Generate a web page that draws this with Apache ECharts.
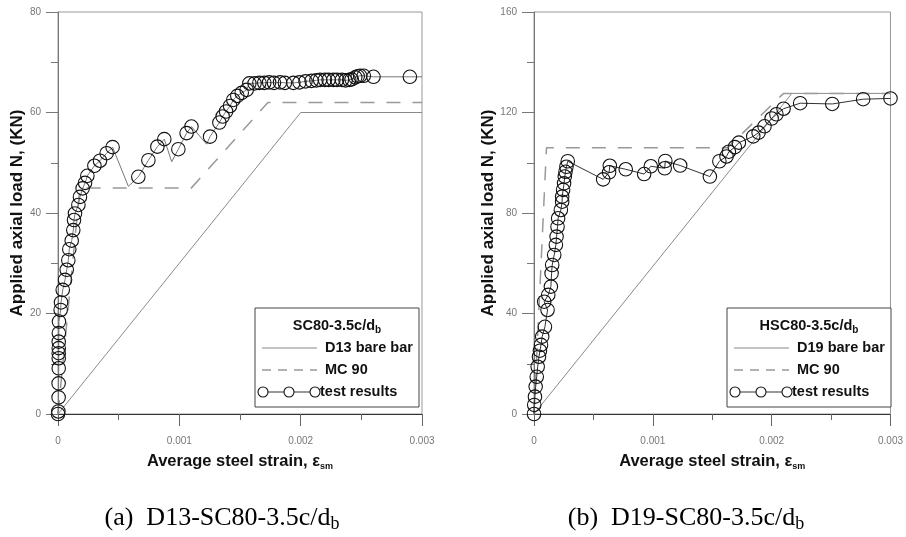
<!DOCTYPE html>
<html>
<head>
<meta charset="utf-8">
<script src="https://cdn.jsdelivr.net/npm/echarts@6/dist/echarts.min.js"></script>
<style>
  html, body { margin: 0; background: #fff; }
  #chart { width: 906px; height: 537px; }
</style>
</head>
<body>
<div id="chart"></div>
<script>
// ---- panel (a) D13-SC80 ----
var barA_strain = [0, 0.002, 0.003];
var barA_load = [0, 60, 60];
var mcA_strain = [0, 0.00018, 0.0011, 0.00173, 0.003];
var mcA_load = [0, 45, 45, 62, 62];
var testA_strain = [0, 0.000003, 0.000005, 0.000005, 0.000006, 0.000006, 0.000006, 0.000006, 0.000006, 0.000007,
  0.000008, 0.000022, 0.000025, 0.000039, 0.000058, 0.000072, 0.000085, 0.000093, 0.000113, 0.000126,
  0.000132, 0.00014, 0.000168, 0.000181, 0.000203, 0.000223, 0.000242, 0.0003, 0.000346, 0.000401,
  0.00045, 0.00058, 0.000662, 0.000745, 0.000819, 0.000876, 0.000937, 0.000992, 0.00106, 0.0011,
  0.001225, 0.001253, 0.00133, 0.001357, 0.001385, 0.001418, 0.001445, 0.001478, 0.001514, 0.001555,
  0.001577, 0.00162, 0.00166, 0.0017, 0.00174, 0.00178, 0.00183, 0.00187, 0.00194, 0.00199,
  0.00204, 0.00209, 0.00213, 0.00216, 0.0022, 0.00223, 0.00227, 0.0023, 0.00234, 0.00237,
  0.0024, 0.00242, 0.00245, 0.00247, 0.00249, 0.00252, 0.0026, 0.0029, 0.003];
var testA_load = [0, 0.5, 3.3, 6.1, 9.1, 11.1, 12.1, 13.1, 14.4, 16.1,
  18.4, 20.7, 22.2, 24.7, 26.7, 28.7, 30.6, 32.8, 34.5, 36.6,
  38.6, 39.9, 41.6, 43.2, 44.9, 46.0, 47.4, 49.4, 50.4, 51.9,
  53.1, 45.3, 47.2, 50.5, 53.2, 54.7, 50.2, 52.7, 55.9, 57.2,
  53.7, 55.2, 58.0, 59.2, 60.2, 61.3, 62.5, 63.3, 63.9, 64.5,
  65.8, 65.8, 65.9, 65.9, 66.0, 65.9, 66.0, 65.9, 65.9, 66.0,
  66.2, 66.3, 66.4, 66.5, 66.5, 66.5, 66.5, 66.5, 66.5, 66.4,
  66.5, 66.6, 67.0, 67.2, 67.3, 67.3, 67.1, 67.1, 67.1];
// vertices of the test curve drawn without a marker
var testA_lineOnly = [31, 36, 40, 78];

// ---- panel (b) D19-SC80 ----
var barB_strain = [0, 0.00217, 0.003];
var barB_load = [0, 127.6, 127.6];
var mcB_strain = [0, 0.000105, 0.00163, 0.0021, 0.003];
var mcB_load = [0, 106, 106, 127.6, 127.6];
var testB_strain = [0, 0.000002, 0.000008, 0.000014, 0.000023, 0.000031, 0.000042, 0.00005, 0.000059, 0.000069,
  0.000092, 0.000114, 0.000086, 0.00012, 0.000142, 0.000148, 0.000153, 0.00017, 0.000184, 0.00019,
  0.000198, 0.000203, 0.000226, 0.000237, 0.000237, 0.000245, 0.000253, 0.000259, 0.000265, 0.000273,
  0.000284, 0.000582, 0.000632, 0.000638, 0.000772, 0.000927, 0.000983, 0.0011, 0.001105, 0.00123,
  0.00148, 0.00156, 0.00162, 0.00164, 0.00169, 0.001724, 0.001845, 0.00189, 0.00194, 0.002,
  0.00204, 0.0021, 0.00224, 0.00251, 0.00277, 0.003];
var testB_load = [0, 3.6, 6.9, 10.9, 14.8, 18.8, 22.8, 25.2, 27.5, 30.8,
  34.7, 41.4, 44.7, 47.4, 50.7, 56.0, 59.3, 63.3, 67.3, 70.6,
  74.5, 77.9, 81.2, 84.5, 86.5, 89.2, 91.8, 94.5, 96.4, 98.4,
  100.6, 93.4, 96.2, 98.8, 97.4, 95.5, 98.6, 97.8, 100.7, 98.9,
  94.5, 100.6, 102.5, 104.4, 106.2, 108.0, 110.5, 112.0, 114.5, 117.6,
  119.3, 121.5, 123.7, 123.4, 125.3, 125.6];
var testB_lineOnly = [];

var xTicks = [0, 0.001, 0.002, 0.003];
var yMaxA = 80, yStepA = 20;
var yMaxB = 160, yStepB = 40;

var chart = echarts.init(document.getElementById('chart'));

function pairs(xs, ys) {
  return xs.map(function (x, i) { return [x, ys[i]]; });
}
function testData(xs, ys, lineOnly) {
  return xs.map(function (x, i) {
    if (lineOnly.indexOf(i) >= 0) return { value: [x, ys[i]], symbol: 'none' };
    return [x, ys[i]];
  });
}

var font = 'Liberation Sans, Arial, sans-serif';
var serif = 'Liberation Serif, Times New Roman, serif';

function xAxis(idx) {
  return {
    gridIndex: idx, type: 'value', min: 0, max: 0.003, interval: 0.001,
    name: '{a|Average steel strain, ε}{s|sm}',
    nameLocation: 'middle', nameGap: 38,
    nameTextStyle: {
      rich: {
        a: { fontFamily: font, fontSize: 16.5, fontWeight: 'bold', color: '#111', lineHeight: 19 },
        s: { fontFamily: font, fontSize: 9, fontWeight: 'bold', color: '#111', lineHeight: 9, verticalAlign: 'bottom' }
      }
    },
    axisLine: { onZero: false, lineStyle: { color: '#333', width: 1 } },
    axisTick: { inside: false, length: 12, lineStyle: { color: '#666' } },
    minorTick: { show: true, splitNumber: 2, length: 6, lineStyle: { color: '#666' } },
    axisLabel: {
      margin: 22, color: '#777', fontFamily: font, fontSize: 10,
      formatter: function (v) {
        var k = xTicks.indexOf(Math.round(v * 10000) / 10000);
        return k >= 0 ? String(xTicks[k]) : '';
      }
    },
    splitLine: { show: false }
  };
}
function yAxis(idx, max, step) {
  return {
    gridIndex: idx, type: 'value', min: 0, max: max, interval: step,
    name: 'Applied axial load N, (KN)',
    nameLocation: 'middle', nameGap: 30, nameRotate: 90,
    nameTextStyle: { fontFamily: font, fontSize: 17, fontWeight: 'bold', color: '#111' },
    axisLine: { onZero: false, lineStyle: { color: '#777', width: 1 } },
    axisTick: { inside: false, length: 12, lineStyle: { color: '#777' } },
    minorTick: { show: true, splitNumber: 2, length: 7, lineStyle: { color: '#777' } },
    axisLabel: { margin: 17, color: '#777', fontFamily: font, fontSize: 10 },
    splitLine: { show: false }
  };
}
function barSeries(idx, data) {
  return {
    type: 'line', xAxisIndex: idx, yAxisIndex: idx, data: data, symbol: 'none',
    lineStyle: { color: '#8a8a8a', width: 1 }, z: 2, animation: false
  };
}
function mcSeries(idx, data) {
  return {
    type: 'line', xAxisIndex: idx, yAxisIndex: idx, data: data, symbol: 'none',
    lineStyle: { color: '#999', width: 1.5, type: [14, 12] }, z: 2, animation: false
  };
}
function testSeries(idx, data, lineColor) {
  return {
    type: 'line', xAxisIndex: idx, yAxisIndex: idx, data: data,
    symbol: 'circle', symbolSize: 13.5, showAllSymbol: true, clip: false,
    itemStyle: { color: 'rgba(0,0,0,0)', borderColor: '#111', borderWidth: 1.1 },
    lineStyle: { color: lineColor, width: 1 }, z: 3, animation: false
  };
}

function legendGraphics(x0, title) {
  var y0 = 308, g = [];
  g.push({ type: 'rect', z: 100, shape: { x: x0, y: y0, width: 164, height: 99 },
    style: { fill: '#fff', stroke: '#444', lineWidth: 1 } });
  g.push({ type: 'text', z: 101, x: x0 + 82, y: y0 + 18,
    style: { text: '{t|' + title + '}{s|b}', align: 'center', verticalAlign: 'middle',
      rich: {
        t: { fontFamily: font, fontSize: 14.5, fontWeight: 'bold', fill: '#111', lineHeight: 18 },
        s: { fontFamily: font, fontSize: 10, fontWeight: 'bold', fill: '#111', lineHeight: 10, verticalAlign: 'bottom' }
      } } });
  var rows = [
    { y: y0 + 40, label: title.indexOf('H') === 0 ? 'D19 bare bar' : 'D13 bare bar' },
    { y: y0 + 62, label: 'MC 90' },
    { y: y0 + 84, label: 'test results' }
  ];
  g.push({ type: 'line', z: 101, shape: { x1: x0 + 7, y1: rows[0].y, x2: x0 + 62, y2: rows[0].y },
    style: { stroke: '#888', lineWidth: 1 } });
  g.push({ type: 'line', z: 101, shape: { x1: x0 + 7, y1: rows[1].y, x2: x0 + 62, y2: rows[1].y },
    style: { stroke: '#999', lineWidth: 1.5, lineDash: [9, 7] } });
  g.push({ type: 'line', z: 101, shape: { x1: x0 + 8, y1: rows[2].y, x2: x0 + 60, y2: rows[2].y },
    style: { stroke: '#333', lineWidth: 1 } });
  [x0 + 8, x0 + 34, x0 + 60].forEach(function (cx) {
    g.push({ type: 'circle', z: 102, shape: { cx: cx, cy: rows[2].y, r: 5 },
      style: { fill: '#fff', stroke: '#111', lineWidth: 1.1 } });
  });
  rows.forEach(function (r, i) {
    g.push({ type: 'text', z: 101, x: i === 2 ? x0 + 65 : x0 + 70, y: r.y,
      style: { text: r.label, fontFamily: font, fontSize: 14.5, fontWeight: 'bold', fill: '#111',
        align: 'left', verticalAlign: 'middle' } });
  });
  return g;
}
function caption(cx, text) {
  return { type: 'text', z: 100, x: cx, y: 518,
    style: { text: '{t|' + text + '}{s|b}', align: 'center', verticalAlign: 'middle',
      rich: {
        t: { fontFamily: serif, fontSize: 26, fill: '#000', lineHeight: 30 },
        s: { fontFamily: serif, fontSize: 18, fill: '#000', lineHeight: 18, verticalAlign: 'bottom' }
      } } };
}

chart.setOption({
  backgroundColor: '#fff',
  animation: false,
  grid: [
    { left: 58, top: 12, width: 364, height: 402, show: true, borderColor: '#999', borderWidth: 1 },
    { left: 534, top: 12, width: 359, height: 402, show: true, borderColor: '#999', borderWidth: 1 }
  ],
  xAxis: [xAxis(0), xAxis(1)],
  yAxis: [yAxis(0, yMaxA, yStepA), yAxis(1, yMaxB, yStepB)],
  series: [
    barSeries(0, pairs(barA_strain, barA_load)),
    mcSeries(0, pairs(mcA_strain, mcA_load)),
    testSeries(0, testData(testA_strain, testA_load, testA_lineOnly), '#777'),
    barSeries(1, pairs(barB_strain, barB_load)),
    mcSeries(1, pairs(mcB_strain, mcB_load)),
    testSeries(1, testData(testB_strain, testB_load, testB_lineOnly), '#333')
  ],
  graphic: [].concat(
    legendGraphics(255, 'SC80-3.5c/d'),
    legendGraphics(727, 'HSC80-3.5c/d'),
    [caption(222, '(a)  D13-SC80-3.5c/d'), caption(686, '(b)  D19-SC80-3.5c/d')]
  )
});
</script>
</body>
</html>
